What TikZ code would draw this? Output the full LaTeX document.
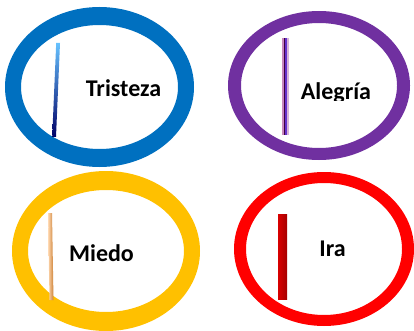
\documentclass[tikz,border=0pt]{standalone}
\usepackage{fontspec}
\setmainfont{Carlito}
\definecolor{ringblue}{HTML}{0070C0}
\definecolor{ringpurple}{HTML}{7030A0}
\definecolor{ringyellow}{HTML}{FFC000}
\definecolor{ringred}{HTML}{FF0000}
\begin{document}
\begin{tikzpicture}[x=1pt,y=-1pt,
  label/.style={anchor=base,inner sep=0pt,font=\fontsize{24}{27}\selectfont\bfseries,text=black}]
\useasboundingbox (0,0) rectangle (414,331);
% rings
\fill[ringblue,even odd rule] (99.5,87) ellipse [x radius=94.5,y radius=80] (99.5,87) ellipse [x radius=78.5,y radius=62];
\fill[ringpurple,even odd rule] (319,85.5) ellipse [x radius=91,y radius=74.5] (319,85.5) ellipse [x radius=78,y radius=62.5];
\fill[ringyellow,even odd rule] (106,251) ellipse [x radius=94,y radius=80] (106,251) ellipse [x radius=78,y radius=61];
\fill[ringred,even odd rule] (324,249) ellipse [x radius=90,y radius=77] (324,249) ellipse [x radius=78,y radius=66];
% sticks
\shade[top color=cyan!60!blue!60, bottom color=blue!40!black] (56.2,43) -- (60,43) -- (56,137) -- (52.2,137) -- cycle;
\fill[violet!70!pink!60] (282,38) rectangle (283.6,135);
\fill[violet!50!black] (283.6,38) rectangle (285.2,135);
\fill[blue!50!violet!80] (285.2,38) rectangle (287.2,135);
\fill[violet!30] (287.2,38) rectangle (289,135);
\shade[left color=orange!30!white, right color=brown!80!orange] (48,213) -- (52,213) -- (53.5,300) -- (49.5,300) -- cycle;
\shade[left color=red!85!black, right color=red!65!black, middle color=red!75!black] (278,214) rectangle (287,299);
% labels
\node[label] (tristeza) at (123.5,97) {Tristeza};
\begin{scope}
\clip (290,60) rectangle (390,101);
\node[label] (alegria) at (336,100) {Alegría};
\end{scope}
\node[label] (miedo) at (101.5,261) {Miedo};
\node[label] (ira) at (332.5,256) {Ira};
\end{tikzpicture}
\end{document}
